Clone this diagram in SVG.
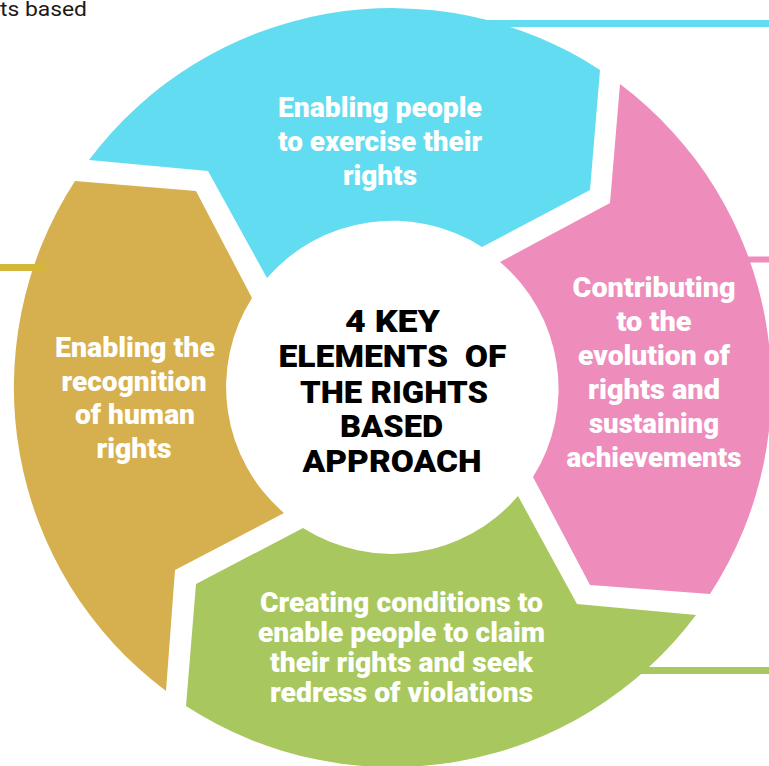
<svg xmlns="http://www.w3.org/2000/svg" width="769" height="766" viewBox="0 0 769 766">
<style>
.lbl{font-family:Roboto,"Liberation Sans",sans-serif;font-weight:900;font-size:28px;fill:#ffffff;text-anchor:middle}
.ctr{font-family:Roboto,"Liberation Sans",sans-serif;font-weight:900;font-size:31px;fill:#000000;text-anchor:middle}
.cap{font-family:Roboto,"Liberation Sans",sans-serif;font-size:20px;fill:#1a1a1a}
</style>
<rect width="769" height="766" fill="#ffffff"/>
<text class="cap" x="0" y="16" textLength="87" lengthAdjust="spacingAndGlyphs">ts based</text>
<g id="connectors">
<line x1="480" y1="23.5" x2="769" y2="23.5" stroke="#62dcf0" stroke-width="7"/>
<line x1="740" y1="259.5" x2="769" y2="259.5" stroke="#ee8dbc" stroke-width="6"/>
<line x1="640" y1="670.5" x2="769" y2="670.5" stroke="#a8c75e" stroke-width="7"/>
</g>
<g id="seg-cyan">
<path d="M89,160 A379,379 0 0 1 600,70 L590,190 L482,247 A166,166 0 0 0 267,278 L208,171 Z" fill="#62dcf0"/>
<text class="lbl" x="380" y="117" textLength="204" lengthAdjust="spacingAndGlyphs">Enabling people</text>
<text class="lbl" x="380" y="151" textLength="204" lengthAdjust="spacingAndGlyphs">to exercise their</text>
<text class="lbl" x="380" y="185" textLength="74" lengthAdjust="spacingAndGlyphs">rights</text>
</g>
<g id="seg-pink">
<path d="M620,84 A379,379 0 0 1 710,594 L590,585 L533,477 A166,166 0 0 0 500,262 L610,203 Z" fill="#ee8dbc"/>
<text class="lbl" x="654" y="297" textLength="163" lengthAdjust="spacingAndGlyphs">Contributing</text>
<text class="lbl" x="654" y="331" textLength="75" lengthAdjust="spacingAndGlyphs">to the</text>
<text class="lbl" x="654" y="365" textLength="152" lengthAdjust="spacingAndGlyphs">evolution of</text>
<text class="lbl" x="654" y="399" textLength="132" lengthAdjust="spacingAndGlyphs">rights and</text>
<text class="lbl" x="654" y="433" textLength="130" lengthAdjust="spacingAndGlyphs">sustaining</text>
<text class="lbl" x="654" y="467" textLength="175" lengthAdjust="spacingAndGlyphs">achievements</text>
</g>
<g id="seg-green">
<path d="M696,615 A379,379 0 0 1 186,706 L196,584 L303,528 A166,166 0 0 0 518,496 L577,604 Z" fill="#a8c75e"/>
<text class="lbl" x="401.5" y="612" textLength="283" lengthAdjust="spacingAndGlyphs">Creating conditions to</text>
<text class="lbl" x="401.5" y="642" textLength="287" lengthAdjust="spacingAndGlyphs">enable people to claim</text>
<text class="lbl" x="401.5" y="672" textLength="263" lengthAdjust="spacingAndGlyphs">their rights and seek</text>
<text class="lbl" x="401.5" y="702" textLength="263" lengthAdjust="spacingAndGlyphs">redress of violations</text>
</g>
<g id="seg-gold">
<path d="M166,691 A379,379 0 0 1 75,181 L196,191 L252,298 A166,166 0 0 0 284,513 L175,570 Z" fill="#d6b04e"/>
<line x1="0" y1="267.5" x2="45" y2="267.5" stroke="#d4b638" stroke-width="7"/>
<text class="lbl" x="135" y="357" textLength="160" lengthAdjust="spacingAndGlyphs">Enabling the</text>
<text class="lbl" x="134" y="391" textLength="145" lengthAdjust="spacingAndGlyphs">recognition</text>
<text class="lbl" x="135" y="424" textLength="120" lengthAdjust="spacingAndGlyphs">of human</text>
<text class="lbl" x="134" y="458" textLength="75" lengthAdjust="spacingAndGlyphs">rights</text>
</g>
<g id="center">
<text class="ctr" x="392.5" y="332" textLength="95" lengthAdjust="spacingAndGlyphs">4 KEY</text>
<text class="ctr" x="392.5" y="367" textLength="228" lengthAdjust="spacingAndGlyphs" xml:space="preserve">ELEMENTS  OF</text>
<text class="ctr" x="394" y="403" textLength="188" lengthAdjust="spacingAndGlyphs">THE RIGHTS</text>
<text class="ctr" x="391.5" y="437" textLength="103" lengthAdjust="spacingAndGlyphs">BASED</text>
<text class="ctr" x="392" y="472" textLength="179" lengthAdjust="spacingAndGlyphs">APPROACH</text>
</g>
</svg>
